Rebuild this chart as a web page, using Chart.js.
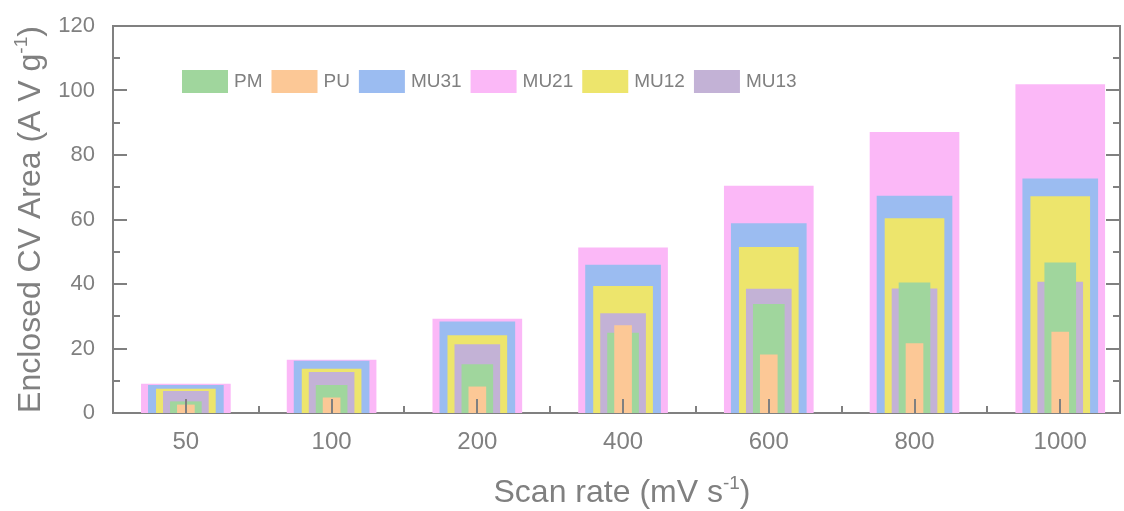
<!DOCTYPE html>
<html>
<head>
<meta charset="utf-8">
<script src="https://cdn.jsdelivr.net/npm/chart.js@4"></script>
<style>
  html, body { margin: 0; padding: 0; background: #fff; }
  #wrap { width: 1124px; height: 511px; }
</style>
</head>
<body>
<div id="wrap"><canvas id="cvChart" width="1124" height="511"></canvas></div>
<script>
// Scan rates (mV s-1)
const scanRates = ["50", "100", "200", "400", "600", "800", "1000"];

// Enclosed CV area (A V g-1) per sample
const pm = [3.5, 8.6, 15.0, 24.8, 33.7, 40.4, 46.6];
const pu = [2.5, 4.7, 8.1, 27.1, 18.0, 21.5, 25.1];
const mu31 = [8.6, 16.1, 28.3, 45.9, 58.7, 67.3, 72.6];
const mu21 = [9.0, 16.4, 29.1, 51.2, 70.4, 87.0, 101.8];
const mu12 = [7.4, 13.6, 24.0, 39.3, 51.4, 60.3, 67.1];
const mu13 = [6.7, 12.6, 21.2, 30.8, 38.4, 38.5, 40.6];

const yTicks = [0, 20, 40, 60, 80, 100, 120];

const FONT = '"Liberation Sans", Arial, sans-serif';
const GREY = "#808080";

const toPoints = (arr) => arr.map((v, i) => ({ x: i, y: v }));

// width in px, order: lower is drawn on top
const series = [
  { label: "PM", data: pm, color: "#a0d69d", width: 31, order: 1 },
  { label: "PU", data: pu, color: "#fcc896", width: 17, order: 0 },
  { label: "MU31", data: mu31, color: "#9bbcf1", width: 75, order: 4 },
  { label: "MU21", data: mu21, color: "#fbb8f7", width: 89, order: 5 },
  { label: "MU12", data: mu12, color: "#ede56c", width: 59, order: 3 },
  { label: "MU13", data: mu13, color: "#c3b2d6", width: 45, order: 2 },
];

// frame, inward ticks, legend and titles with superscripts
const decorPlugin = {
  id: "decor",
  afterDatasetsDraw(chart) {
    const { ctx, chartArea: a, scales } = chart;
    const x = scales.x, y = scales.y;
    ctx.save();
    ctx.strokeStyle = GREY;
    ctx.lineWidth = 2;
    ctx.beginPath();
    ctx.moveTo(a.left, a.top);
    ctx.lineTo(a.right, a.top);
    ctx.lineTo(a.right, a.bottom);
    // y ticks (left and right, pointing in)
    for (let v = 10; v < 120; v += 10) {
      const py = Math.round(y.getPixelForValue(v));
      const len = v % 20 === 0 ? 14 : 7;
      ctx.moveTo(a.left, py);
      ctx.lineTo(a.left + len, py);
      ctx.moveTo(a.right, py);
      ctx.lineTo(a.right - len, py);
    }
    // x ticks
    scanRates.forEach((_, i) => {
      const px = Math.round(x.getPixelForValue(i));
      ctx.moveTo(px, a.bottom);
      ctx.lineTo(px, a.bottom - 14);
      const mx = Math.round(x.getPixelForValue(i + 0.5));
      if (mx < a.right - 2) {
        ctx.moveTo(mx, a.bottom);
        ctx.lineTo(mx, a.bottom - 7);
      }
    });
    ctx.stroke();
    ctx.restore();
  },
  afterDraw(chart) {
    const { ctx, chartArea: a } = chart;
    ctx.save();
    // legend
    let lx = 182;
    const ly = 70;
    ctx.font = "19px " + FONT;
    ctx.textBaseline = "middle";
    chart.data.datasets.forEach((ds) => {
      ctx.fillStyle = ds.backgroundColor;
      ctx.fillRect(lx, ly, 46, 23);
      lx += 52;
      ctx.fillStyle = GREY;
      ctx.fillText(ds.label, lx, ly + 12);
      lx += ctx.measureText(ds.label).width + 9;
    });

    const drawTitle = (parts, cx, cy, rotate) => {
      ctx.save();
      ctx.translate(cx, cy);
      if (rotate) ctx.rotate(-Math.PI / 2);
      let total = 0;
      parts.forEach((p) => {
        ctx.font = p.size + "px " + FONT;
        p.w = ctx.measureText(p.text).width;
        total += p.w;
      });
      let px = -total / 2;
      ctx.fillStyle = GREY;
      ctx.textBaseline = "alphabetic";
      parts.forEach((p) => {
        ctx.font = p.size + "px " + FONT;
        ctx.fillText(p.text, px, 11 + (p.rise || 0));
        px += p.w;
      });
      ctx.restore();
    };

    drawTitle(
      [
        { text: "Scan rate (mV s", size: 32 },
        { text: "-1", size: 19, rise: -13 },
        { text: ")", size: 32 },
      ],
      622, 491, false
    );
    drawTitle(
      [
        { text: "Enclosed CV Area (A V g", size: 32 },
        { text: "-1", size: 19, rise: -13 },
        { text: ")", size: 32 },
      ],
      29, (a.top + a.bottom) / 2, true
    );
    ctx.restore();
  },
};

const ctx = document.getElementById("cvChart").getContext("2d");
new Chart(ctx, {
  type: "bar",
  data: {
    datasets: series.map((s) => ({
      label: s.label,
      data: toPoints(s.data),
      backgroundColor: s.color,
      borderWidth: 0,
      barThickness: s.width,
      grouped: false,
      order: s.order,
    })),
  },
  options: {
    responsive: false,
    animation: false,
    devicePixelRatio: 1,
    layout: { padding: { top: 26, right: 4, left: 0, bottom: 0 } },
    plugins: {
      legend: { display: false },
      tooltip: { enabled: false },
    },
    scales: {
      x: {
        type: "linear",
        offset: false,
        min: -0.5,
        max: 6.41,
        grid: { display: false, drawTicks: false, tickLength: 0, offset: false },
        border: { display: true, color: GREY, width: 2 },
        afterBuildTicks: (s) => {
          s.ticks = scanRates.map((_, i) => ({ value: i }));
        },
        afterFit: (s) => { s.height = 98; },
        ticks: {
          autoSkip: false,
          maxRotation: 0,
          padding: 15,
          color: GREY,
          font: { family: FONT, size: 24 },
          callback: (v) => scanRates[v] ?? "",
        },
      },
      y: {
        min: 0,
        max: 120,
        grid: { display: false, drawTicks: false, tickLength: 0 },
        border: { display: true, color: GREY, width: 2 },
        afterBuildTicks: (s) => {
          s.ticks = yTicks.map((v) => ({ value: v }));
        },
        afterFit: (s) => {
          s.width = 113;
          s.paddingTop = 0;
          s.paddingBottom = 0;
        },
        ticks: {
          padding: 18,
          color: GREY,
          font: { family: FONT, size: 22 },
        },
      },
    },
  },
  plugins: [decorPlugin],
});
</script>
</body>
</html>
